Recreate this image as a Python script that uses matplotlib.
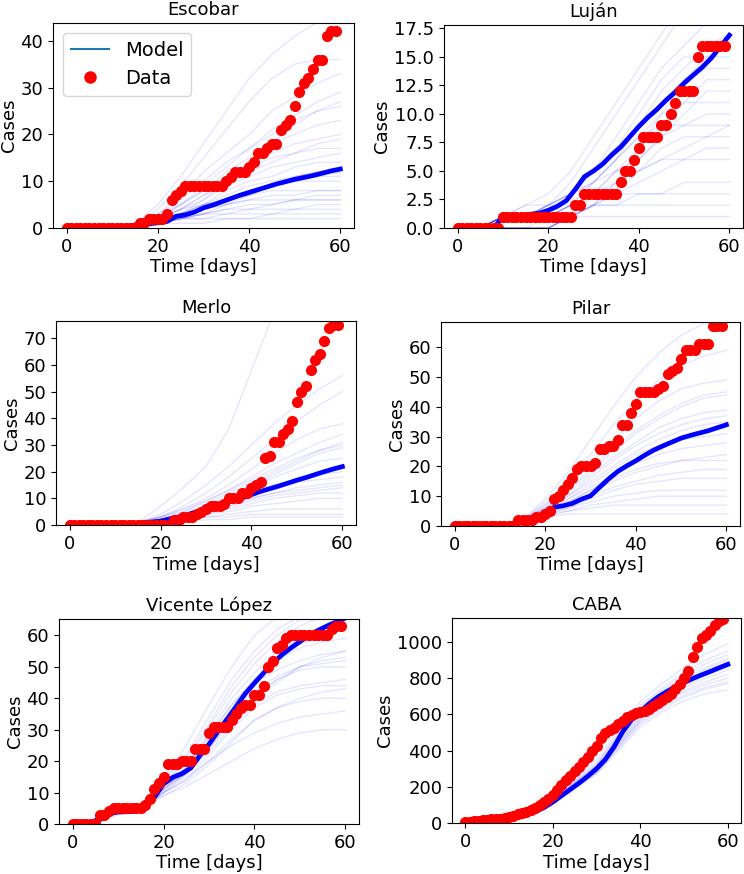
import matplotlib
matplotlib.use("Agg")
import matplotlib.pyplot as plt
from matplotlib.lines import Line2D
from matplotlib.ticker import MultipleLocator

# day grids
data_days = list(range(60))
mean_days = list(range(0, 61, 2))
sim_days = list(range(0, 61, 5))

# ---- Escobar ----
escobar_data = [0]*16 + [1, 1, 2, 2, 2, 2, 3, 6, 7, 8] + [9]*9 + \
    [10, 11, 12, 12, 12, 13, 14, 16, 16, 17, 18, 18, 21, 22, 23, 26, 29, 31, 32, 34, 36, 36, 41, 42, 42]
escobar_mean = [0, 0.02, 0.05, 0.1, 0.15, 0.25, 0.35, 0.5, 0.7, 0.9, 1.1, 1.4, 2.5, 2.8, 3.4, 4.3,
                4.9, 5.6, 6.3, 7.0, 7.6, 8.2, 8.8, 9.4, 9.9, 10.4, 10.8, 11.2, 11.7, 12.2, 12.6]
escobar_sims = [
    [0, 0, 0, 0, 1, 2, 2, 2, 2, 2, 2, 2, 2],
    [0, 0, 0, 0, 1, 2, 3, 4, 4, 4, 4, 4, 4],
    [0, 0, 0, 1, 1, 2, 3, 4, 5, 5, 6, 6, 6],
    [0, 0, 0, 0, 1, 3, 4, 5, 6, 7, 7, 8, 8],
    [0, 0, 0, 0, 1, 2, 4, 6, 7, 8, 8, 8, 8],
    [0, 0, 0, 1, 2, 3, 5, 6, 8, 9, 10, 10, 10],
    [0, 0, 0, 0, 1, 3, 5, 7, 9, 10, 11, 12, 12],
    [0, 0, 0, 0, 2, 3, 5, 8, 10, 11, 13, 14, 14],
    [0, 0, 0, 1, 2, 4, 6, 9, 11, 13, 14, 15, 16],
    [0, 0, 0, 0, 1, 4, 7, 10, 13, 15, 16, 17, 17],
    [0, 0, 0, 1, 2, 5, 8, 11, 14, 16, 18, 19, 20],
    [0, 0, 0, 1, 3, 6, 10, 14, 17, 20, 23, 25, 26],
    [0, 0, 0, 0, 2, 5, 9, 13, 17, 21, 24, 27, 29],
    [0, 0, 0, 1, 3, 7, 12, 16, 20, 25, 28, 31, 33],
    [0, 0, 0, 1, 4, 9, 15, 21, 27, 32, 35, 36, 36],
    [0, 0, 0, 1, 5, 11, 18, 25, 32, 37, 41, 44, 46],
    [0, 0, 0, 0, 1, 1, 1, 2, 2, 3, 4, 5, 5],
    [0, 0, 0, 0, 1, 2, 2, 3, 4, 5, 6, 7, 7],
    [0, 0, 0, 1, 2, 4, 5, 6, 7, 9, 11, 12, 13],
    [0, 0, 0, 0, 2, 3, 4, 5, 6, 6, 6, 6, 6],
    [0, 0, 0, 1, 2, 4, 7, 9, 12, 14, 16, 18, 19],
    [0, 0, 0, 0, 1, 3, 6, 10, 14, 18, 22, 25, 27],
    [0, 0, 0, 0, 1, 2, 3, 3, 3, 3, 3, 3, 3],
    [0, 0, 0, 1, 2, 3, 4, 6, 8, 9, 10, 11, 11],
    [0, 0, 0, 0, 1, 2, 3, 5, 7, 9, 10, 11, 12],
    [0, 0, 0, 1, 3, 5, 8, 12, 15, 18, 20, 22, 23],
]

# ---- Lujan ----
lujan_data = [0]*10 + [1]*16 + [2, 2] + [3]*8 + [4, 5, 5, 6, 7, 8, 8, 8, 8, 9, 9, 10, 11, 12, 12, 12, 12, 15] + [16]*6
lujan_mean = [0, 0, 0, 0, 0, 1.0, 1.05, 1.1, 1.2, 1.3, 1.55, 1.9, 2.4, 3.4, 4.5, 5.0,
              5.6, 6.4, 7.1, 8.0, 8.9, 9.7, 10.4, 11.2, 11.9, 12.7, 13.4, 14.1, 14.9, 15.9, 16.9]
lujan_sims = [
    [0, 0, 1, 1, 1, 2, 3, 5, 6, 8, 9, 10, 10],
    [0, 0, 1, 1, 2, 2, 4, 6, 9, 12, 14, 16, 17],
    [0, 0, 1, 1, 1, 1, 2, 2, 3, 3, 4, 4, 4],
    [0, 0, 1, 1, 2, 3, 5, 8, 11, 14, 16, 18, 20],
    [0, 0, 0, 0, 0, 1, 2, 3, 4, 5, 6, 7, 7],
    [0, 0, 0, 0, 0, 1, 3, 5, 7, 9, 11, 13, 13],
    [0, 0, 1, 2, 2, 3, 5, 7, 10, 13, 15, 15, 15],
    [0, 0, 1, 1, 1, 2, 2, 2, 2, 2, 2, 2, 2],
    [0, 0, 1, 1, 2, 4, 7, 10, 13, 16, 19, 21, 23],
    [0, 0, 0, 0, 0, 1, 2, 4, 6, 8, 10, 12, 12],
    [0, 0, 1, 1, 1, 2, 3, 4, 5, 6, 7, 8, 9],
    [0, 0, 1, 2, 3, 5, 8, 11, 14, 17, 20, 22, 24],
    [0, 0, 0, 0, 0, 1, 1, 1, 1, 1, 1, 1, 1],
    [0, 0, 1, 1, 2, 3, 4, 6, 8, 10, 11, 11, 11],
    [0, 0, 1, 1, 1, 2, 3, 3, 3, 3, 3, 3, 3],
    [0, 0, 0, 0, 0, 1, 2, 4, 7, 10, 13, 15, 16],
    [0, 0, 1, 1, 1, 3, 4, 5, 5, 6, 6, 6, 6],
    [0, 0, 0, 0, 1, 2, 4, 6, 8, 9, 9, 9, 9],
    [0, 0, 1, 1, 2, 3, 5, 7, 9, 11, 13, 14, 14],
    [0, 0, 0, 0, 0, 1, 2, 3, 5, 7, 8, 8, 8],
]

# ---- Merlo ----
merlo_data = [0]*23 + [2, 2, 3, 3, 3, 4, 5, 6, 7, 7, 7, 8, 10, 10, 10, 12, 12, 14, 15, 16,
                      25, 26, 31, 31, 34, 36, 39, 46, 50, 52, 58, 62, 64, 69, 74, 75, 75]
merlo_mean = [0, 0.02, 0.05, 0.08, 0.1, 0.15, 0.2, 0.5, 0.8, 1.1, 1.5, 2.3, 3.0, 3.9, 5.0, 6.2,
              7.2, 8.1, 9.1, 10.2, 11.4, 12.6, 13.6, 14.6, 15.7, 16.8, 17.8, 18.9, 20.0, 21.0, 21.9]
merlo_sims = [
    [0, 0, 0, 0, 1, 2, 3, 3, 4, 4, 4, 4, 4],
    [0, 0, 0, 0, 1, 2, 3, 4, 5, 6, 6, 6, 6],
    [0, 0, 0, 0, 1, 2, 4, 5, 7, 8, 9, 10, 10],
    [0, 0, 0, 1, 2, 3, 5, 7, 9, 11, 12, 13, 14],
    [0, 0, 0, 0, 1, 3, 5, 7, 10, 12, 14, 15, 16],
    [0, 0, 0, 1, 2, 4, 6, 9, 12, 15, 17, 19, 20],
    [0, 0, 0, 1, 2, 4, 7, 10, 14, 18, 21, 24, 25],
    [0, 0, 0, 0, 2, 4, 7, 11, 15, 19, 23, 27, 29],
    [0, 0, 0, 1, 2, 5, 9, 13, 18, 23, 27, 31, 34],
    [0, 0, 0, 1, 3, 6, 10, 15, 21, 27, 32, 36, 38],
    [0, 0, 0, 1, 3, 7, 12, 18, 25, 32, 39, 45, 50],
    [0, 0, 0, 1, 4, 9, 15, 22, 30, 38, 45, 51, 56],
    [0, 0, 0, 1, 7, 14, 22, 36, 58, 80, 100, 120, 130],
    [0, 0, 0, 0, 1, 1, 2, 2, 3, 3, 3, 3, 3],
    [0, 0, 0, 0, 1, 3, 6, 9, 12, 14, 16, 17, 18],
    [0, 0, 0, 1, 2, 4, 6, 8, 10, 12, 13, 14, 15],
    [0, 0, 0, 0, 1, 2, 4, 6, 8, 10, 11, 12, 12],
    [0, 0, 0, 1, 3, 6, 9, 13, 17, 21, 25, 28, 30],
    [0, 0, 0, 1, 2, 3, 5, 8, 11, 14, 17, 20, 22],
    [0, 0, 0, 1, 3, 5, 8, 12, 16, 20, 24, 28, 31],
]

# ---- Pilar ----
pilar_data = [0]*14 + [2, 2, 2, 2, 3, 3, 4, 5, 9, 10, 12, 14, 16, 19, 20, 20, 20, 21, 26, 26, 27, 27,
                      29, 34, 34, 38, 41, 45, 45, 45, 45, 46, 47, 51, 52, 53, 56, 59, 59, 59, 61, 61, 61, 67, 67, 67]
pilar_mean = [0, 0.02, 0.05, 0.08, 0.12, 0.2, 0.5, 1.5, 2.0, 2.8, 4.5, 6.3, 6.8, 7.6, 9.0, 10.1,
              13.0, 15.8, 18.3, 20.2, 21.9, 23.8, 25.5, 26.9, 28.2, 29.5, 30.4, 31.2, 32.0, 33.0, 34.0]
pilar_sims = [
    [0, 0, 0, 1, 3, 4, 4, 4, 4, 4, 4, 4, 4],
    [0, 0, 0, 1, 3, 5, 6, 7, 7, 7, 7, 7, 7],
    [0, 0, 0, 2, 4, 6, 8, 10, 11, 12, 12, 12, 12],
    [0, 0, 0, 2, 5, 7, 10, 13, 15, 17, 18, 19, 19],
    [0, 0, 0, 2, 4, 7, 11, 15, 18, 20, 22, 23, 24],
    [0, 0, 0, 2, 5, 9, 13, 17, 21, 24, 26, 27, 28],
    [0, 0, 0, 2, 5, 9, 14, 19, 24, 27, 30, 32, 33],
    [0, 0, 0, 2, 6, 11, 17, 23, 28, 33, 36, 38, 39],
    [0, 0, 0, 2, 6, 12, 19, 26, 32, 37, 41, 44, 45],
    [0, 0, 0, 2, 7, 13, 21, 29, 36, 42, 46, 48, 49],
    [0, 0, 0, 2, 8, 15, 24, 34, 42, 49, 54, 57, 59],
    [0, 0, 0, 2, 9, 18, 29, 40, 50, 58, 64, 68, 70],
    [0, 0, 0, 2, 5, 8, 12, 16, 19, 21, 22, 22, 22],
    [0, 0, 0, 2, 4, 6, 9, 12, 14, 15, 16, 16, 16],
    [0, 0, 0, 2, 6, 10, 15, 20, 25, 29, 32, 34, 35],
    [0, 0, 0, 2, 7, 12, 18, 25, 31, 36, 40, 43, 44],
    [0, 0, 0, 2, 4, 5, 7, 8, 9, 10, 10, 10, 10],
    [0, 0, 0, 2, 5, 8, 12, 17, 22, 26, 29, 30, 31],
    [0, 0, 0, 2, 6, 10, 16, 22, 27, 31, 34, 36, 37],
]

# ---- Vicente Lopez ----
vl_data = [0]*6 + [3, 3, 4, 5, 5, 5, 5, 5, 5, 5, 6, 8, 11, 13, 15, 19, 19, 19, 20, 20, 20, 24, 24, 24,
                   29, 31, 31, 31, 31, 33, 35, 37, 38, 38, 41, 41, 44, 50, 52, 56, 57, 59,
                   60, 60, 60, 60, 60, 60, 60, 60, 60, 62, 63, 63]
vl_mean = [0, 0, 0.1, 2.0, 3.3, 3.8, 3.9, 4.0, 5.0, 8.5, 12.8, 14.8, 16.0, 17.8, 21.8, 25.4,
           29.5, 33.4, 37.4, 41.5, 44.8, 48.0, 51.0, 53.8, 56.0, 58.0, 60.0, 61.6, 63.0, 64.3, 65.5]
vl_sims = [
    [0, 0, 4, 5, 11, 16, 24, 33, 40, 45, 50, 53, 55],
    [0, 0, 4, 5, 10, 15, 20, 25, 29, 32, 34, 35, 36],
    [0, 0, 4, 5, 9, 12, 16, 20, 24, 27, 29, 30, 30],
    [0, 0, 4, 6, 12, 18, 28, 38, 46, 52, 57, 60, 62],
    [0, 0, 4, 6, 13, 20, 31, 42, 51, 58, 63, 66, 68],
    [0, 0, 4, 5, 11, 17, 26, 35, 42, 47, 50, 51, 52],
    [0, 0, 4, 5, 10, 14, 22, 30, 37, 41, 43, 44, 44],
    [0, 0, 4, 6, 14, 22, 34, 46, 55, 62, 66, 69, 70],
    [0, 0, 4, 5, 12, 17, 26, 37, 46, 52, 56, 58, 59],
    [0, 0, 4, 5, 10, 16, 23, 31, 38, 42, 44, 45, 46],
    [0, 0, 4, 6, 13, 19, 29, 40, 48, 55, 59, 62, 63],
    [0, 0, 3, 5, 9, 13, 19, 26, 33, 37, 39, 40, 40],
    [0, 0, 4, 6, 15, 25, 38, 50, 60, 66, 70, 72, 73],
    [0, 0, 4, 5, 11, 18, 28, 38, 45, 49, 52, 54, 55],
    [0, 0, 4, 5, 10, 14, 20, 27, 33, 37, 40, 42, 43],
    [0, 0, 4, 5, 12, 16, 24, 33, 40, 46, 50, 52, 53],
    [0, 0, 4, 6, 14, 21, 32, 44, 53, 60, 65, 68, 70],
    [0, 0, 4, 5, 11, 16, 25, 34, 41, 46, 49, 50, 50],
]

# ---- CABA ----
caba_data = [5, 8, 10, 12, 14, 18, 20, 20, 22, 25, 35, 40, 48, 55, 58, 70, 85, 100, 115, 135,
             155, 180, 210, 240, 262, 285, 310, 335, 365, 395, 425, 470, 495, 515, 525, 545, 565, 585, 598, 605,
             612, 620, 630, 645, 665, 680, 695, 715, 740, 770, 800, 840, 915, 970, 1020, 1040, 1060, 1095, 1115, 1125]
caba_mean = [0, 2, 5, 9, 15, 22, 32, 45, 62, 85, 115, 150, 185, 220, 258, 300,
             350, 420, 505, 570, 615, 658, 695, 725, 752, 776, 798, 818, 837, 857, 876]
caba_sims = [
    [0, 8, 22, 58, 130, 205, 290, 430, 570, 660, 730, 780, 820],
    [0, 8, 23, 62, 145, 225, 315, 480, 630, 725, 800, 860, 910],
    [0, 8, 21, 55, 125, 195, 275, 410, 545, 630, 695, 740, 770],
    [0, 8, 24, 65, 150, 235, 330, 500, 650, 745, 830, 900, 950],
    [0, 8, 22, 60, 135, 210, 295, 445, 590, 680, 755, 815, 860],
    [0, 8, 22, 61, 140, 220, 305, 465, 610, 700, 775, 835, 890],
    [0, 8, 21, 57, 128, 200, 282, 420, 555, 640, 705, 750, 780],
    [0, 9, 25, 68, 155, 245, 345, 520, 670, 770, 860, 935, 990],
    [0, 8, 23, 63, 142, 222, 310, 470, 620, 715, 790, 850, 900],
    [0, 8, 20, 54, 122, 190, 268, 400, 530, 615, 675, 715, 735],
    [0, 8, 22, 59, 133, 208, 292, 440, 580, 670, 745, 800, 845],
    [0, 8, 23, 64, 147, 230, 322, 490, 640, 735, 815, 880, 930],
    [0, 8, 22, 60, 138, 215, 300, 455, 600, 690, 765, 825, 875],
    [0, 8, 21, 56, 127, 198, 280, 425, 565, 650, 720, 765, 800],
]

panels = [
    ("Escobar", escobar_data, escobar_mean, escobar_sims, 43.8, 10, [53, 228, 301, 205]),
    ("Luján", lujan_data, lujan_mean, lujan_sims, 17.8, 2.5, [444, 228, 299, 203]),
    ("Merlo", merlo_data, merlo_mean, merlo_sims, 76.5, 10, [56, 525, 300, 204]),
    ("Pilar", pilar_data, pilar_mean, pilar_sims, 68.5, 10, [441, 526, 299, 204]),
    ("Vicente López", vl_data, vl_mean, vl_sims, 65.2, 10, [59, 824, 300, 205]),
    ("CABA", caba_data, caba_mean, caba_sims, 1132, 200, [452, 823, 289, 205]),
]

W, H = 744, 874
fig = plt.figure(figsize=(W/100, H/100), dpi=100)

for i, (name, data, mean, sims, ytop, ystep, box) in enumerate(panels):
    left, bottom, w, h = box
    ax = fig.add_axes([left/W, 1 - bottom/H, w/W, h/H])
    for s in sims:
        ax.plot(sim_days, s, color='b', alpha=0.1, lw=1)
    ax.plot(mean_days, mean, color='b', lw=3.4)
    ax.plot(data_days, data, 'o', color='r', ms=7)
    ax.set_ylim(0, ytop)
    ax.set_xticks([0, 20, 40, 60])
    ax.yaxis.set_major_locator(MultipleLocator(ystep))
    ax.tick_params(labelsize=13)
    ax.set_title(name, fontsize=13)
    ax.set_xlabel("Time [days]", fontsize=13, labelpad=2)
    ax.set_ylabel("Cases", fontsize=13, labelpad=2)
    if i == 0:
        handles = [Line2D([], [], color='C0', lw=1.5),
                   Line2D([], [], ls='', marker='o', color='r', ms=8)]
        ax.legend(handles, ["Model", "Data"], loc='upper left', fontsize=14)

fig.savefig("out.png", dpi=100)
